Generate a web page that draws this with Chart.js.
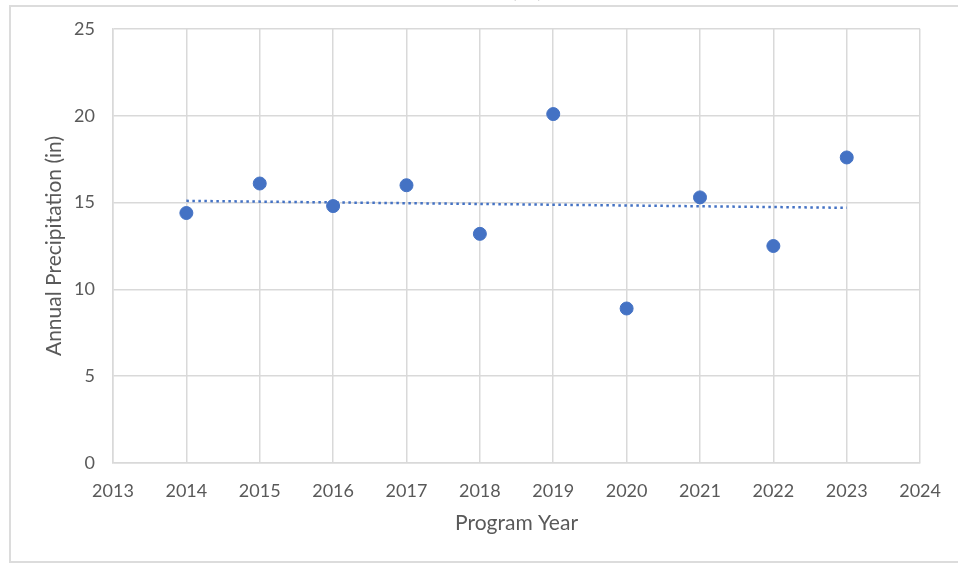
<!DOCTYPE html>
<html>
<head>
<meta charset="utf-8">
<script src="https://cdn.jsdelivr.net/npm/chart.js@4.4.1/dist/chart.umd.min.js"></script>
<style>
  html, body { margin: 0; padding: 0; background: #fff; overflow: hidden; }
  #wrap { position: relative; width: 958px; height: 567px; }
  #frame { position: absolute; left: 9px; top: 5px; width: 960px; height: 558px;
           border: 2px solid #dcdcdc; box-sizing: border-box; }
  #title { position: absolute; left: 55px; top: -28px; white-space: nowrap;
           font: bold 26px "Liberation Serif", serif; color: #000; }
  canvas { position: absolute; left: 0; top: 0; }
</style>
</head>
<body>
<div id="wrap">
  <div id="frame"></div>
  <canvas id="chart" width="958" height="567"></canvas>
  <div id="title">Annual Precipitation in the County, WY (in)</div>
</div>
<script>
// Data
const years = [2014, 2015, 2016, 2017, 2018, 2019, 2020, 2021, 2022, 2023];
const precip = [14.4, 16.1, 14.8, 16.0, 13.2, 20.1, 8.9, 15.3, 12.5, 17.6];

// Linear trendline end points (as drawn)
const trendYears = [2014, 2023];
const trendValues = [15.1, 14.7];

// Axis ticks
const xTicks = [2013, 2014, 2015, 2016, 2017, 2018, 2019, 2020, 2021, 2022, 2023, 2024];
const yTicks = [0, 5, 10, 15, 20, 25];

const blue = '#4472C4';
const gridColor = '#d9d9d9';
const textColor = '#595959';
const fontFamily = 'Lato, "Open Sans", sans-serif';

new Chart(document.getElementById('chart'), {
  type: 'scatter',
  data: {
    datasets: [
      {
        label: 'Annual Precipitation',
        data: years.map((y, i) => ({ x: y, y: precip[i] })),
        backgroundColor: blue,
        borderColor: blue,
        pointRadius: 6.5,
        pointHoverRadius: 6.5
      },
      {
        label: 'Trend',
        type: 'line',
        data: trendYears.map((y, i) => ({ x: y, y: trendValues[i] })),
        borderColor: blue,
        borderWidth: 2.5,
        borderDash: [2.5, 3.5],
        pointRadius: 0,
        fill: false
      }
    ]
  },
  options: {
    responsive: false,
    animation: false,
    layout: { padding: { top: 29, right: 27, bottom: 0, left: 0 } },
    plugins: {
      legend: { display: false },
      tooltip: { enabled: false }
    },
    scales: {
      x: {
        type: 'linear',
        min: 2013,
        max: 2024,
        afterBuildTicks: (scale) => { scale.ticks = xTicks.map(v => ({ value: v })); },
        afterFit: (scale) => { scale.height = 104; },
        grid: { color: gridColor, lineWidth: 1.5, drawTicks: false },
        border: { color: gridColor, width: 1.5 },
        ticks: {
          padding: 17,
          color: textColor,
          font: { family: fontFamily, size: 18 },
          callback: (v) => String(v)
        },
        title: {
          display: true,
          text: 'Program Year',
          color: textColor,
          font: { family: fontFamily, size: 21 },
          padding: { top: 0, bottom: 31 }
        }
      },
      y: {
        min: 0,
        max: 25,
        afterBuildTicks: (scale) => { scale.ticks = yTicks.map(v => ({ value: v })); },
        afterFit: (scale) => { scale.width = 113; },
        grid: { color: gridColor, lineWidth: 1.5, drawTicks: false },
        border: { color: gridColor, width: 1.5 },
        ticks: {
          padding: 18,
          color: textColor,
          font: { family: fontFamily, size: 18 }
        },
        title: {
          display: true,
          text: 'Annual Precipitation (in)',
          color: textColor,
          font: { family: fontFamily, size: 21 },
          padding: { top: 42, bottom: 0 }
        }
      }
    }
  }
});
</script>
</body>
</html>
